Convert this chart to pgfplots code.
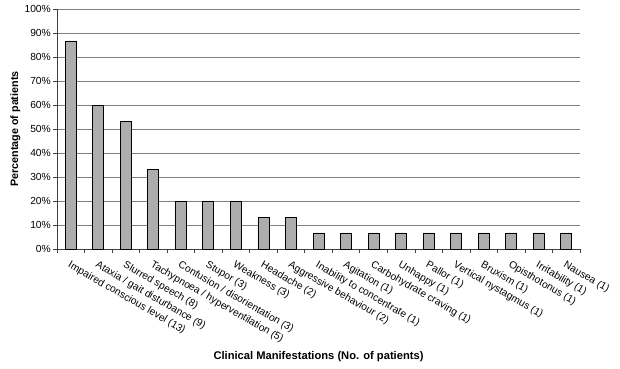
\documentclass[border=0pt]{standalone}
\usepackage{fontspec}
\setmainfont{Liberation Sans}
\usepackage{pgfplots}
\pgfplotsset{compat=1.18}
\begin{document}
\begin{tikzpicture}
\useasboundingbox (-57bp,-120bp) rectangle (563bp,249bp);
\begin{axis}[
  at={(0,0)}, anchor=south west,
  scale only axis, width=523bp, height=240bp,
  xmin=-0.5, xmax=18.5, ymin=0, ymax=100,
  axis x line*=bottom, axis y line*=left,
  axis line style={-, draw=black!75, line width=0.7pt},
  ytick={0,10,...,100},
  yticklabel={\pgfmathprintnumber{\tick}\%},
  /pgf/number format/assume math mode=true,
  y tick label style={font=\fontsize{10.3}{12}\selectfont, inner sep=2pt},
  ymajorgrids, grid style={black!50, line width=0.7pt},
  xtick={0,...,18},
  xticklabels={Impaired conscious level (13),Ataxia / gait disturbance (9),Slurred speech (8),Tachypnoea / hyperventilation (5),Confusion / disorientation (3),Stupor (3),Weakness (3),Headache (2),Aggressive behaviour (2),Inability to concentrate (1),Agitation (1),Carbohydrate craving (1),Unhappy (1),Pallor (1),Vertical nystagmus (1),Bruxism (1),Opisthotonus (1),Irritability (1),Nausea (1)},
  x tick label style={rotate=-30, anchor=north west, font=\fontsize{10.3}{12}\selectfont, inner sep=1pt, yshift=-5bp, xshift=3bp},
  major x tick style={draw=none},
  minor xtick={-0.5,0.5,...,18.5},
  minor x tick style={draw=black!75, line width=0.6pt},
  major y tick style={draw=black!75, line width=0.6pt},
  tick align=outside, major tick length=4bp, minor tick length=4bp,
  ylabel={\bfseries Percentage of patients},
  ylabel style={at={(axis description cs:-0.063,0.5)}, anchor=south, font=\fontsize{10.8}{13}\selectfont},
  xlabel={\bfseries Clinical Manifestations (No. of patients)},
  xlabel style={at={(axis description cs:0.5,-0.45)}, anchor=center, font=\fontsize{11.2}{13}\selectfont},
]
\addplot[ybar, bar width=11bp, fill=black!32, draw=black, line width=0.8pt] coordinates {
(0,86.67) (1,60) (2,53.33) (3,33.33) (4,20) (5,20) (6,20) (7,13.33) (8,13.33)
(9,6.67) (10,6.67) (11,6.67) (12,6.67) (13,6.67) (14,6.67) (15,6.67) (16,6.67) (17,6.67) (18,6.67)};
\end{axis}
\end{tikzpicture}
\end{document}
